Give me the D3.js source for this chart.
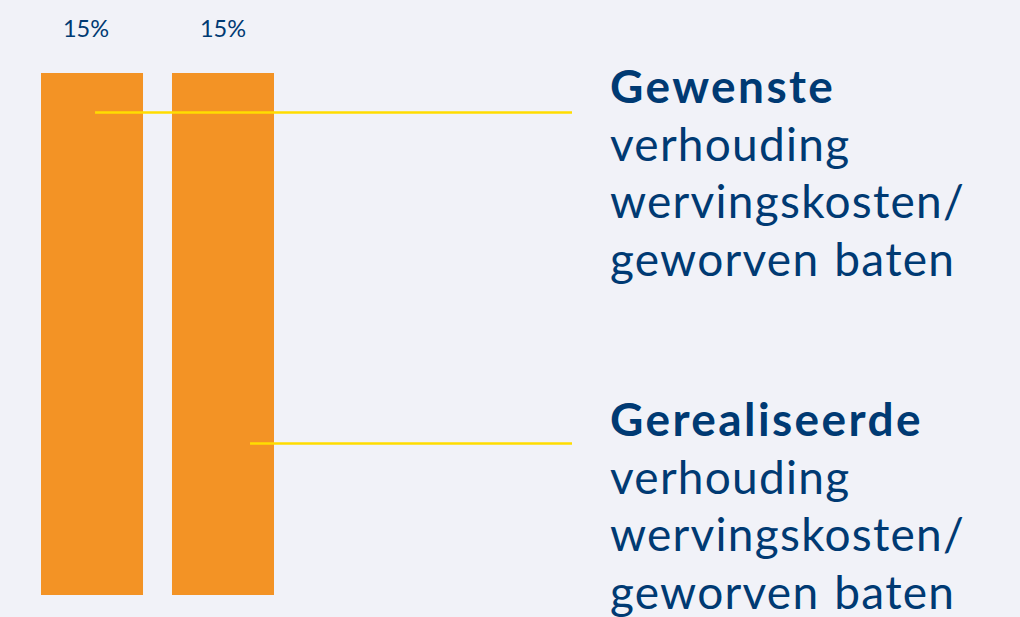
<!DOCTYPE html>
<html>
<head>
<meta charset="utf-8">
<script src="https://cdn.jsdelivr.net/npm/d3@7"></script>
<style>
  html, body { margin: 0; padding: 0; background: #F1F2F8; }
  svg { display: block; }
</style>
</head>
<body>
<div id="chart"></div>
<script>
// ---- data ----
const categories = ["Gewenste", "Gerealiseerde"];
const values = [15, 15];            // percentages
const valueLabels = ["15%", "15%"];
const legendTitles = ["Gewenste", "Gerealiseerde"];
const legendLines = ["verhouding", "wervingskosten/", "geworven baten"];

// ---- layout ----
const W = 1020, H = 617;
const colors = { bg: "#F1F2F8", bar: "#F39325", lead: "#FFDD00", text: "#003A73" };

const svg = d3.select("#chart").append("svg")
  .attr("width", W).attr("height", H);
svg.append("rect").attr("width", W).attr("height", H).attr("fill", colors.bg);

const x = d3.scaleBand().domain(categories).range([41, 274]).paddingInner(0.2212).paddingOuter(0);
const y = d3.scaleLinear().domain([0, 15]).range([595, 73]);

// bars
svg.selectAll("rect.bar").data(categories).join("rect")
  .attr("class", "bar")
  .attr("x", d => x(d))
  .attr("width", x.bandwidth())
  .attr("y", (d, i) => y(values[i]))
  .attr("height", (d, i) => y(0) - y(values[i]))
  .attr("fill", colors.bar);

// value labels
svg.selectAll("text.val").data(categories).join("text")
  .attr("class", "val")
  .attr("x", (d, i) => x(d) + x.bandwidth() / 2 - (i === 0 ? 6 : 0))
  .attr("y", 37)
  .attr("text-anchor", "middle")
  .attr("font-family", "Lato, sans-serif")
  .attr("font-weight", 400)
  .attr("font-size", 23.5)
  .attr("fill", colors.text)
  .text((d, i) => valueLabels[i]);

// leader lines (from inside each bar to the legend text)
const leaderY = [112.5, 443.5];
const leaderStartFrac = [0.53, 0.765];
const leaderEnd = 572;
svg.selectAll("line.lead").data(categories).join("line")
  .attr("class", "lead")
  .attr("x1", (d, i) => x(d) + x.bandwidth() * leaderStartFrac[i])
  .attr("x2", leaderEnd)
  .attr("y1", (d, i) => leaderY[i])
  .attr("y2", (d, i) => leaderY[i])
  .attr("stroke", colors.lead)
  .attr("stroke-width", 2.6);

// legend text blocks
const blockBaseline = [103, 436];
const lineGap = 57.5;
legendTitles.forEach((t, i) => {
  const g = svg.append("text")
    .attr("x", 610)
    .attr("y", blockBaseline[i])
    .attr("font-family", "Lato, sans-serif")
    .attr("font-size", 46)
    .attr("fill", colors.text);
  g.append("tspan").attr("x", 610).attr("font-weight", 700).attr("letter-spacing", 2.4).text(t);
  legendLines.forEach((l, j) => {
    g.append("tspan").attr("x", 610).attr("dy", lineGap).attr("font-weight", 400)
      .attr("letter-spacing", 1.25).attr("word-spacing", 2).text(l);
  });
});
</script>
</body>
</html>
